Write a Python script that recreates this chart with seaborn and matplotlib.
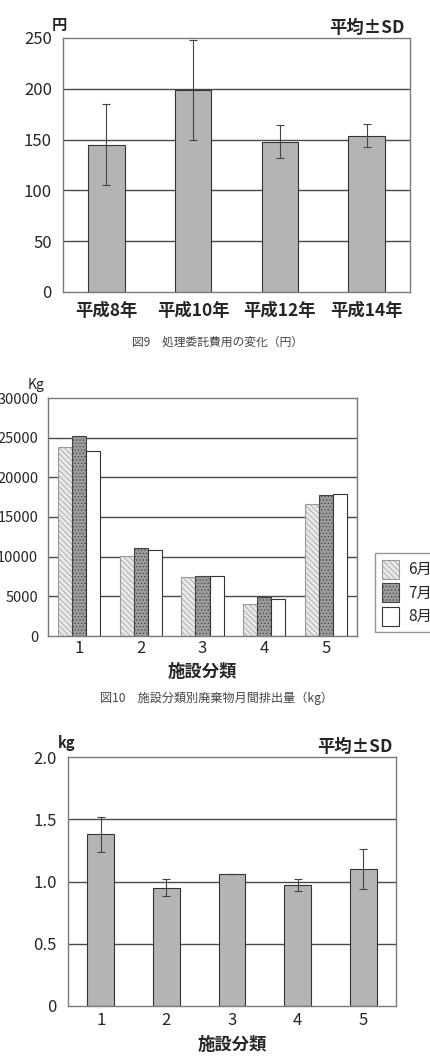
import matplotlib
matplotlib.use("Agg")
import matplotlib.pyplot as plt
import seaborn as sns
import pandas as pd
import numpy as np

sns.set_theme(style="white")
plt.rcParams['font.family'] = ['Noto Sans CJK JP', 'DejaVu Sans']
plt.rcParams['hatch.linewidth'] = 0.5

# ---------------- data ----------------
years = ["平成8年", "平成10年", "平成12年", "平成14年"]
cost_mean = [145, 199, 148, 154]
cost_sd = [40, 49, 16, 11]
cost_yticks = [0, 50, 100, 150, 200, 250]

facility = ["1", "2", "3", "4", "5"]
months = ["6月", "7月", "8月"]
waste_jun = [23800, 10050, 7400, 4030, 16650]
waste_jul = [25200, 11100, 7520, 4920, 17770]
waste_aug = [23280, 10840, 7600, 4660, 17940]
waste_yticks = [0, 5000, 10000, 15000, 20000, 25000, 30000]

per_mean = [1.38, 0.95, 1.06, 0.97, 1.10]
per_sd = [0.14, 0.07, 0.0, 0.05, 0.16]
per_yticks = [0, 0.5, 1.0, 1.5, 2.0]
per_yticklabels = ["0", "0.5", "1.0", "1.5", "2.0"]

W, H = 431, 1063
fig = plt.figure(figsize=(W / 100, H / 100), dpi=100)


def ax_px(left, top, right, bottom):
    return fig.add_axes([left / W, 1 - bottom / H, (right - left) / W, (bottom - top) / H])


def fx(x):
    return x / W


def fy(y):
    return 1 - y / H


GRID = "#4a4a4a"
SPINE = "#7a7a7a"
BAR = "#b4b4b4"
EDGE = "#333333"


def style_axes(ax, n, ymax, yticks, pad):
    ax.set_xlim(-0.5, n - 0.5)
    ax.set_ylim(0, ymax)
    ax.set_yticks(yticks)
    for y in yticks[1:-1]:
        ax.axhline(y, color=GRID, lw=1.0, zorder=0)
    for s in ax.spines.values():
        s.set_color(SPINE)
        s.set_linewidth(1.0)
    ax.tick_params(axis='y', length=0, pad=pad)
    ax.tick_params(axis='x', which='major', length=0)
    ax.set_xticks(np.arange(n - 1) + 0.5, minor=True)
    ax.tick_params(axis='x', which='minor', direction='in', length=4, color=SPINE, width=1)
    ax.set_xlabel("")
    ax.set_ylabel("")


# ---------------- panel 1 ----------------
ax1 = ax_px(63, 38, 410, 292)
df1 = pd.DataFrame({"year": years, "cost": cost_mean})
sns.barplot(data=df1, x="year", y="cost", ax=ax1, color=BAR, width=0.42,
            edgecolor=EDGE, linewidth=0.8, saturation=1, errorbar=None, zorder=2)
ax1.errorbar(np.arange(len(years)), cost_mean, yerr=cost_sd, fmt='none',
             ecolor="#444444", elinewidth=0.8, capsize=3, capthick=0.8, zorder=3)
style_axes(ax1, len(years), 250, cost_yticks, 8)
ax1.tick_params(axis='y', labelsize=12)
ax1.tick_params(axis='x', labelsize=12.5, pad=7)
for t in ax1.get_xticklabels():
    t.set_fontweight('bold')
fig.text(fx(52), fy(25), "円", fontsize=11, fontweight='bold', va='center', ha='left')
fig.text(fx(405), fy(28), "平均±SD", fontsize=12.5, fontweight='bold', va='center', ha='right')
fig.text(fx(217), fy(342), "図9　処理委託費用の変化（円）", fontsize=8.5, color="#444444",
         va='center', ha='center')

# ---------------- panel 2 ----------------
ax2 = ax_px(48, 398, 357, 636)
df2 = pd.DataFrame({
    "facility": facility * 3,
    "month": [months[0]] * 5 + [months[1]] * 5 + [months[2]] * 5,
    "waste": waste_jun + waste_jul + waste_aug,
})
sns.barplot(data=df2, x="facility", y="waste", hue="month", ax=ax2, width=0.68,
            palette=["#e8e8e8", "#9c9c9c", "#ffffff"], saturation=1,
            edgecolor=EDGE, linewidth=0.8, errorbar=None, legend=False, zorder=2)
hatches = ['\\\\\\\\\\\\', '.....', '']
hatch_edges = ["#9a9a9a", "#444444", EDGE]
for cont, h, ec in zip(ax2.containers, hatches, hatch_edges):
    for p in cont.patches:
        p.set_hatch(h)
        p.set_edgecolor(ec)
style_axes(ax2, len(facility), 30000, waste_yticks, 7)
ax2.tick_params(axis='y', labelsize=10.5)
ax2.tick_params(axis='x', labelsize=12, pad=3)
ax2.set_xlabel("施設分類", fontsize=12.5, fontweight='bold', labelpad=4)
fig.text(fx(28), fy(385), "Kg", fontsize=10, va='center', ha='left')
leg = ax2.legend(ax2.containers, months, loc='upper left',
                 bbox_to_anchor=(fx(375), fy(553)), bbox_transform=fig.transFigure,
                 frameon=True, fancybox=False, fontsize=11, handlelength=1.15,
                 handleheight=1.5, handletextpad=0.6, labelspacing=0.32,
                 borderpad=0.45, borderaxespad=0)
leg.get_frame().set_edgecolor(SPINE)
leg.get_frame().set_linewidth(1.0)
fig.text(fx(217), fy(698), "図10　施設分類別廃棄物月間排出量（kg）", fontsize=8.7, color="#444444",
         va='center', ha='center')

# ---------------- panel 3 ----------------
ax3 = ax_px(68, 757, 396, 1006)
df3 = pd.DataFrame({"facility": facility, "per": per_mean})
sns.barplot(data=df3, x="facility", y="per", ax=ax3, color=BAR, width=0.41,
            edgecolor=EDGE, linewidth=0.8, saturation=1, errorbar=None, zorder=2)
ax3.errorbar(np.arange(len(facility)), per_mean, yerr=per_sd, fmt='none',
             ecolor="#444444", elinewidth=0.8, capsize=3, capthick=0.8, zorder=3)
style_axes(ax3, len(facility), 2.0, per_yticks, 8)
ax3.set_yticklabels(per_yticklabels)
ax3.tick_params(axis='y', labelsize=12)
ax3.tick_params(axis='x', labelsize=12, pad=4)
ax3.set_xlabel("施設分類", fontsize=12.5, fontweight='bold', labelpad=5)
fig.text(fx(58), fy(743), "kg", fontsize=10.5, fontweight='bold', va='center', ha='left')
fig.text(fx(393), fy(747), "平均±SD", fontsize=12.5, fontweight='bold', va='center', ha='right')

fig.savefig("out.png", dpi=100, facecolor="white")
